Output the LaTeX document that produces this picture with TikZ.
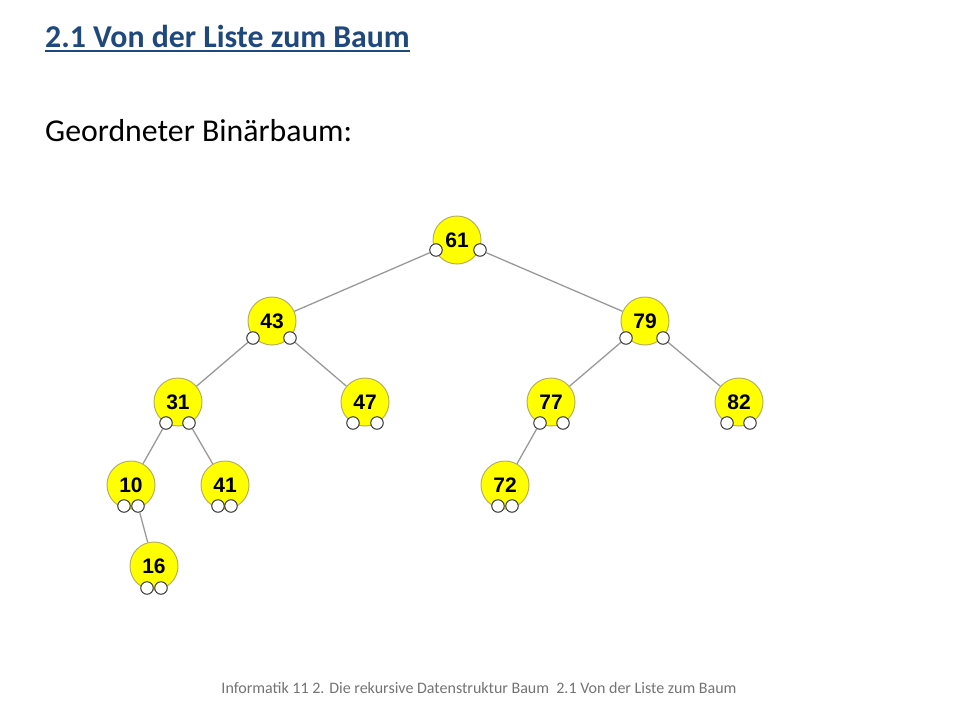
\documentclass[tikz,border=0pt]{standalone}
\usepackage{fontspec}
\setmainfont{Carlito}
\newfontfamily\arialf{Liberation Sans}
\definecolor{titleblue}{HTML}{1F497D}
\definecolor{nodeyellow}{HTML}{FFFF00}
\definecolor{nodeborder}{HTML}{B8B060}
\tikzset{
  tn/.style={circle,fill=nodeyellow,draw=nodeborder,line width=1pt,minimum size=48pt,inner sep=0pt,font=\arialf\bfseries\fontsize{21}{21}\selectfont},
  pt/.style={circle,fill=white,draw=black!80,line width=1pt,minimum size=12.5pt,inner sep=0pt},
  ed/.style={draw=black!40,line width=1.3pt}
}
\begin{document}
\begin{tikzpicture}[x=1pt,y=-1pt]
\useasboundingbox (0,0) rectangle (960,720);
\node[anchor=base west,text=titleblue,font=\bfseries\fontsize{31.8}{32}\selectfont,inner sep=0] (title) at (45,47) {2.1 Von der Liste zum Baum};
\draw[titleblue,line width=1.8pt] ([yshift=-4pt]title.base west) -- ([yshift=-4pt]title.base east);
\node[anchor=base west,font=\fontsize{31.8}{32}\selectfont,inner sep=0] (sub) at (45,141) {Geordneter Binärbaum:};
\node[anchor=base,text=black!55,font=\fontsize{16}{16}\selectfont,inner sep=0] (foot) at (479,693) {Informatik 11 2. Die rekursive Datenstruktur Baum\ \ 2.1 Von der Liste zum Baum};
% nodes
\node[tn] (n61) at (457,240) {61};
\node[tn] (n43) at (272,321) {43};
\node[tn] (n79) at (645,321) {79};
\node[tn] (n31) at (178,402) {31};
\node[tn] (n47) at (365,402) {47};
\node[tn] (n77) at (551,402) {77};
\node[tn] (n82) at (739,402) {82};
\node[tn] (n10) at (131,485) {10};
\node[tn] (n41) at (225,485) {41};
\node[tn] (n72) at (505,485) {72};
\node[tn] (n16) at (154,566) {16};
% ports
\node[pt] (p61l) at (436,250) {}; \node[pt] (p61r) at (480,250) {};
\node[pt] (p43l) at (253,338) {}; \node[pt] (p43r) at (290,338) {};
\node[pt] (p79l) at (626,338) {}; \node[pt] (p79r) at (663,338) {};
\node[pt] (p31l) at (166,423) {}; \node[pt] (p31r) at (189,423) {};
\node[pt] (p47l) at (353,423) {}; \node[pt] (p47r) at (377,423) {};
\node[pt] (p77l) at (540,423) {}; \node[pt] (p77r) at (563,423) {};
\node[pt] (p82l) at (727,423) {}; \node[pt] (p82r) at (750,423) {};
\node[pt] (p10l) at (124,506) {}; \node[pt] (p10r) at (138,506) {};
\node[pt] (p41l) at (218,506) {}; \node[pt] (p41r) at (231,506) {};
\node[pt] (p72l) at (498,506) {}; \node[pt] (p72r) at (512,506) {};
\node[pt] (p16l) at (147,588) {}; \node[pt] (p16r) at (161,588) {};
% edges
\path[ed] (p61l) -- (n43) (p61r) -- (n79)
  (p43l) -- (n31) (p43r) -- (n47)
  (p79l) -- (n77) (p79r) -- (n82)
  (p31l) -- (n10) (p31r) -- (n41)
  (p77l) -- (n72) (p10r) -- (n16);
\end{tikzpicture}
\end{document}
